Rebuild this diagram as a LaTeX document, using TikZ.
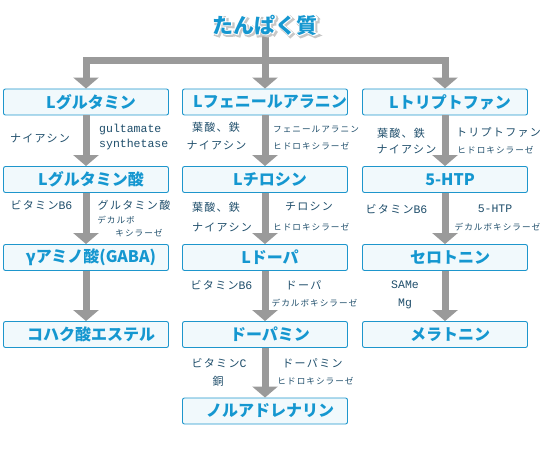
\documentclass[tikz,border=0pt]{standalone}
\usepackage{fontspec}
\usetikzlibrary{arrows.meta}
\newfontfamily\jpfont{Noto Sans CJK JP}
\newfontfamily\jpoutline[FakeBold=10]{Noto Sans CJK JP Bold}
\newfontfamily\jpshadow[FakeBold=16]{Noto Sans CJK JP Bold}
\newfontfamily\labfont[LetterSpace=12]{Noto Sans CJK JP}
\newfontfamily\monofont{Liberation Mono}
\definecolor{boxblue}{HTML}{1E96CC}
\definecolor{boxfill}{HTML}{F1F9FC}
\definecolor{txtblue}{HTML}{1597D0}
\definecolor{labcol}{HTML}{1F4E6B}
\definecolor{stemgray}{HTML}{9A9A9A}
\newcommand{\mlat}[1]{{\monofont\fontsize{11.5}{12}\selectfont #1}}
\newcommand{\bx}[1]{\hspace*{10pt}#1}
\tikzset{
  box/.style={draw=boxblue, line width=0.9pt, fill=boxfill, rounded corners=2pt,
    minimum width=165pt, minimum height=26pt, inner sep=0pt,
    font=\jpfont\bfseries\fontsize{16}{18}\selectfont, text=txtblue},
  lab/.style={inner sep=0pt, text=labcol, font=\labfont\fontsize{11}{12}\selectfont},
  slab/.style={inner sep=0pt, text=labcol, font=\labfont\fontsize{8.6}{10}\selectfont},
  mlab/.style={inner sep=0pt, text=labcol, font=\monofont\fontsize{11.5}{12}\selectfont},
  stemline/.style={draw=stemgray, line width=7pt},
  stemarrow/.style={draw=stemgray, line width=7pt, -{Triangle[width=25pt,length=11pt]}},
  titletext/.style={inner sep=0pt, font=\jpfont\bfseries\fontsize{21}{24}\selectfont},
  titleback/.style={inner sep=0pt, font=\jpoutline\fontsize{21}{24}\selectfont},
  titleshadow/.style={inner sep=0pt, font=\jpshadow\fontsize{21}{24}\selectfont}
}
\begin{document}
\begin{tikzpicture}[x=1pt, y=-1pt]
\useasboundingbox (0,0) rectangle (553,454);
% boxes
\node[box] (a1) at (86,102) {\bx{Lグルタミン}};
\node[box] (b1) at (265,102) {\bx{Lフェニールアラニン}};
\node[box] (c1) at (445,102) {\bx{Lトリプトファン}};
\node[box] (a2) at (86,179.5) {\bx{Lグルタミン酸}};
\node[box] (b2) at (265,179.5) {\bx{Lチロシン}};
\node[box] (c2) at (445,179.5) {\bx{5-HTP}};
\node[box] (a3) at (86,257.5) {\bx{γアミノ酸(GABA)}};
\node[box] (b3) at (265,257.5) {\bx{Lドーパ}};
\node[box] (c3) at (445,257.5) {\bx{セロトニン}};
\node[box] (a4) at (86,334.5) {\bx{コハク酸エステル}};
\node[box] (b4) at (265,334.5) {\bx{ドーパミン}};
\node[box] (c4) at (445,334.5) {\bx{メラトニン}};
\node[box] (b5) at (265,411) {\bx{ノルアドレナリン}};
% title anchor
\coordinate (tc) at (265,25);
\coordinate (tb) at (265,36);
\coordinate (junc) at (265,61);
% connectors
\draw[stemline] (tb) -- (junc);
\draw[stemarrow] (junc) -| (a1.north);
\draw[stemarrow] (junc) -- (b1.north);
\draw[stemarrow] (junc) -| (c1.north);
\foreach \c in {a,b,c}{
  \draw[stemarrow] (\c1.south) -- (\c2.north);
  \draw[stemarrow] (\c2.south) -- (\c3.north);
  \draw[stemarrow] (\c3.south) -- (\c4.north);
}
\draw[stemarrow] (b4.south) -- (b5.north);
% title: soft shadow, white outline (emboldened copies) then blue text
\node[titleshadow, text=black!22] (titlesh) at (266.5,26.5) {たんぱく質};
\node[titleback, text=white] (titlebg) at (tc) {たんぱく質};
\node[titletext, text=txtblue] (title) at (tc) {たんぱく質};
% labels column a
\node[lab] (la1) at (40,138) {ナイアシン};
\node[mlab, anchor=west] (la2) at (99,130) {gultamate};
\node[mlab, anchor=west] (la3) at (99,145) {synthetase};
\node[lab] (la4) at (41.5,205) {ビタミン\mlat{B6}};
\node[lab] (la5) at (134,205) {グルタミン酸};
\node[slab] (la6) at (116,220) {デカルボ};
\node[slab] (la7) at (139,233) {キシラーゼ};
% labels column b
\node[lab] (lb1) at (216,127) {葉酸、鉄};
\node[lab] (lb2) at (216.5,145) {ナイアシン};
\node[slab, anchor=west] (lb3) at (273,129) {フェニールアラニン};
\node[slab, anchor=west] (lb4) at (273,146) {ヒドロキシラーゼ};
\node[lab] (lb5) at (216,207) {葉酸、鉄};
\node[lab] (lb6) at (222,227) {ナイアシン};
\node[lab] (lb7) at (309,207) {チロシン};
\node[slab, anchor=west] (lb8) at (273,227) {ヒドロキシラーゼ};
\node[lab] (lb9) at (221.5,285) {ビタミン\mlat{B6}};
\node[lab] (lb10) at (303.5,285) {ドーパ};
\node[slab] (lb11) at (314.5,303) {デカルボキシラーゼ};
\node[lab] (lb12) at (219,363) {ビタミン\mlat{C}};
\node[lab] (lb13) at (218,381) {銅};
\node[lab] (lb14) at (312.5,363) {ドーパミン};
\node[slab] (lb15) at (315.5,381) {ヒドロキシラーゼ};
% labels column c
\node[lab] (lc1) at (401,133) {葉酸、鉄};
\node[lab] (lc2) at (406.5,149) {ナイアシン};
\node[lab] (lc3) at (498.5,132) {トリプトファン};
\node[slab] (lc4) at (495.5,150) {ヒドロキシラーゼ};
\node[lab] (lc5) at (396.5,209) {ビタミン\mlat{B6}};
\node[mlab] (lc6) at (495,209) {5-HTP};
\node[slab] (lc7) at (497.5,227) {デカルボキシラーゼ};
\node[mlab] (lc8) at (405,285) {SAMe};
\node[mlab] (lc9) at (405,304) {Mg};
\end{tikzpicture}
\end{document}
